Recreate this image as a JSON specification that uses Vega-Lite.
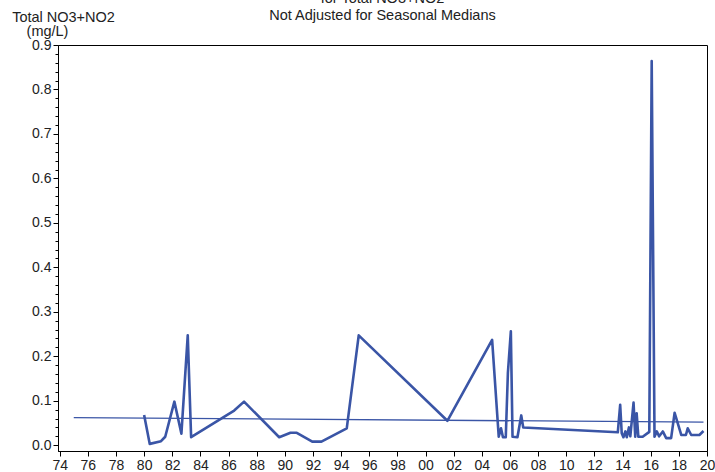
{
  "$schema": "https://vega.github.io/schema/vega-lite/v6.json",
  "width": 649,
  "height": 406,
  "autosize": {"type": "none"},
  "padding": {"left": 58, "top": 45, "right": 8, "bottom": 21},
  "background": "white",
  "config": {
    "font": "Liberation Sans",
    "view": {"stroke": "black", "strokeWidth": 1},
    "title": {"font": "Liberation Sans", "fontSize": 14.5, "fontWeight": "normal", "color": "#222"},
    "axis": {"labelFont": "Liberation Sans", "titleFont": "Liberation Sans", "grid": false, "domainColor": "black", "tickColor": "black", "labelColor": "#222", "titleColor": "#222"}
  },
  "title": {
    "text": ["for Total NO3+NO2", "Not Adjusted for Seasonal Medians"],
    "anchor": "middle",
    "frame": "group",
    "offset": -14,
    "lineHeight": 17
  },
  "datasets": {
    "obs": [
      {"year": 1980.0, "value": 0.068},
      {"year": 1980.4, "value": 0.003},
      {"year": 1981.2, "value": 0.009},
      {"year": 1981.5, "value": 0.019},
      {"year": 1982.15, "value": 0.098},
      {"year": 1982.65, "value": 0.026},
      {"year": 1983.1, "value": 0.247},
      {"year": 1983.34, "value": 0.018},
      {"year": 1986.4, "value": 0.078},
      {"year": 1987.1, "value": 0.098},
      {"year": 1989.6, "value": 0.018},
      {"year": 1990.4, "value": 0.028},
      {"year": 1990.85, "value": 0.028},
      {"year": 1991.95, "value": 0.008},
      {"year": 1992.6, "value": 0.008},
      {"year": 1994.4, "value": 0.038},
      {"year": 1995.25, "value": 0.247},
      {"year": 2001.55, "value": 0.055},
      {"year": 2004.73, "value": 0.237},
      {"year": 2005.2, "value": 0.019},
      {"year": 2005.36, "value": 0.038},
      {"year": 2005.5, "value": 0.018},
      {"year": 2005.7, "value": 0.018},
      {"year": 2005.85, "value": 0.162},
      {"year": 2006.06, "value": 0.256},
      {"year": 2006.18, "value": 0.019},
      {"year": 2006.53, "value": 0.018},
      {"year": 2006.8, "value": 0.067},
      {"year": 2006.94, "value": 0.040},
      {"year": 2013.66, "value": 0.029},
      {"year": 2013.83, "value": 0.091},
      {"year": 2013.94, "value": 0.027},
      {"year": 2014.06, "value": 0.018},
      {"year": 2014.2, "value": 0.031},
      {"year": 2014.3, "value": 0.018},
      {"year": 2014.45, "value": 0.04},
      {"year": 2014.55, "value": 0.02},
      {"year": 2014.78, "value": 0.096},
      {"year": 2014.9, "value": 0.019},
      {"year": 2015.0, "value": 0.072},
      {"year": 2015.12, "value": 0.019},
      {"year": 2015.43, "value": 0.019},
      {"year": 2015.9, "value": 0.03},
      {"year": 2016.07, "value": 0.864},
      {"year": 2016.27, "value": 0.019},
      {"year": 2016.43, "value": 0.031},
      {"year": 2016.6, "value": 0.02},
      {"year": 2016.86, "value": 0.031},
      {"year": 2017.1, "value": 0.016},
      {"year": 2017.45, "value": 0.016},
      {"year": 2017.7, "value": 0.073},
      {"year": 2018.17, "value": 0.023},
      {"year": 2018.5, "value": 0.023},
      {"year": 2018.63, "value": 0.038},
      {"year": 2018.88, "value": 0.023},
      {"year": 2019.46, "value": 0.023},
      {"year": 2019.75, "value": 0.032}
    ],
    "trend": [
      {"year": 1975.0, "value": 0.062},
      {"year": 2019.75, "value": 0.052}
    ]
  },
  "layer": [
    {
      "data": {"name": "trend"},
      "mark": {"type": "line", "color": "#3a55a6", "strokeWidth": 1.3},
      "encoding": {
        "x": {"field": "year", "type": "quantitative", "scale": {"domain": [1973.88, 2020], "nice": false, "zero": false},
          "axis": {"values": [1974,1976,1978,1980,1982,1984,1986,1988,1990,1992,1994,1996,1998,2000,2002,2004,2006,2008,2010,2012,2014,2016,2018,2020],
            "labelExpr": "format(datum.value % 100, '02d')", "labelFontSize": 14, "tickSize": 5, "labelPadding": 2, "labelFlush": false, "labelOverlap": false, "labelSeparation": 0, "title": null}},
        "y": {"field": "value", "type": "quantitative", "scale": {"domain": [-0.013, 0.9], "nice": false, "zero": false},
          "axis": {"orient": "left", "values": [0.02,0.04,0.06,0.08,0.12,0.14,0.16,0.18,0.22,0.24,0.26,0.28,0.32,0.34,0.36,0.38,0.42,0.44,0.46,0.48,0.52,0.54,0.56,0.58,0.62,0.64,0.66,0.68,0.72,0.74,0.76,0.78,0.82,0.84,0.86,0.88],
            "labels": false, "tickSize": 3, "domain": false,
            "title": "(mg/L)", "titleAngle": 0, "titleAlign": "center", "titleBaseline": "alphabetic", "titleX": -11, "titleY": -10, "titleFontSize": 14.5, "titleFontWeight": "normal"}}
      }
    },
    {
      "data": {"name": "obs"},
      "mark": {"type": "line", "color": "#3a55a6", "strokeWidth": 2.6, "strokeJoin": "round"},
      "encoding": {
        "x": {"field": "year", "type": "quantitative",
          "axis": {"values": [1974,1976,1978,1980,1982,1984,1986,1988,1990,1992,1994,1996,1998,2000,2002,2004,2006,2008,2010,2012,2014,2016,2018,2020],
            "labelExpr": "format(datum.value % 100, '02d')", "labelFontSize": 14, "tickSize": 5, "labelPadding": 2, "labelFlush": false, "labelOverlap": false, "labelSeparation": 0, "title": null}},
        "y": {"field": "value", "type": "quantitative",
          "axis": {"orient": "left", "values": [0,0.1,0.2,0.3,0.4,0.5,0.6,0.7,0.8,0.9], "format": ".1f", "labelFontSize": 14, "tickSize": 5, "labelPadding": 2,
            "title": "Total NO3+NO2", "titleAngle": 0, "titleAlign": "center", "titleBaseline": "alphabetic", "titleX": 5, "titleY": -24, "titleFontSize": 14.5, "titleFontWeight": "normal"}}
      }
    }
  ],
  "resolve": {"axis": {"y": "independent"}}
}
